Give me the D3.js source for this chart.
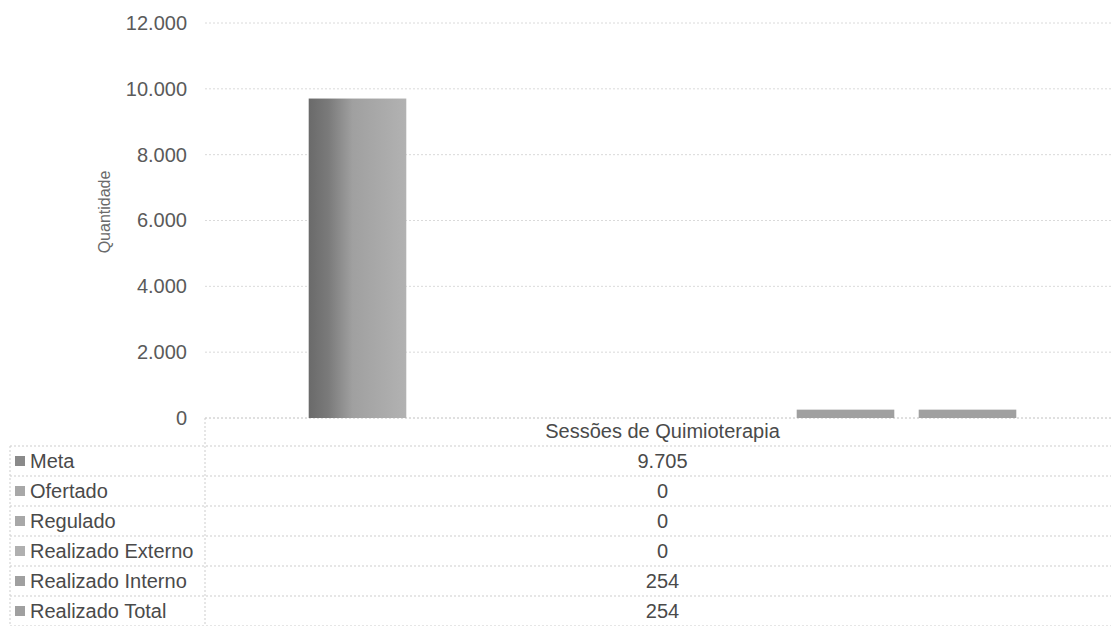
<!DOCTYPE html>
<html>
<head>
<meta charset="utf-8">
<script src="https://cdn.jsdelivr.net/npm/d3@7"></script>
<style>
  html, body { margin: 0; padding: 0; background: #fff; }
  svg { display: block; font-family: "Liberation Sans", Arial, sans-serif; }
</style>
</head>
<body>
<svg id="chart" width="1111" height="626"></svg>
<script>
// ---- data ----
const categories = ["Sessões de Quimioterapia"];
const series = ["Meta", "Ofertado", "Regulado", "Realizado Externo", "Realizado Interno", "Realizado Total"];
const values = [9705, 0, 0, 0, 254, 254];
const yTicks = [0, 2000, 4000, 6000, 8000, 10000, 12000];
const yTitle = "Quantidade";
const seriesColors = ["#8a8a8a", "#a8a8a8", "#a8a8a8", "#b0b0b0", "#a0a0a0", "#a0a0a0"];

// ---- layout ----
const W = 1111, H = 626;
const plotLeft = 205, plotRight = 1120, plotTop = 23, plotBottom = 418;
const tableLeft = 10, headerBottom = 446, rowH = 30;

const svg = d3.select("#chart");
const locale = d3.formatLocale({decimal: ",", thousands: ".", grouping: [3], currency: ["R$", ""]});
const fmt = locale.format(",d");

const y = d3.scaleLinear().domain([0, 12000]).range([plotBottom, plotTop]);
const x0 = d3.scaleBand().domain(categories).range([plotLeft, plotRight]).padding(0);
const x1 = d3.scaleBand().domain(series).range([0, x0.bandwidth()]).paddingInner(0.2).paddingOuter(0.85);

// gradient for textured look
const defs = svg.append("defs");
const g1 = defs.append("linearGradient").attr("id", "gMeta").attr("x1", "0").attr("x2", "1").attr("y1", "0").attr("y2", "0");
g1.append("stop").attr("offset", "0%").attr("stop-color", "#6a6a6a");
g1.append("stop").attr("offset", "20%").attr("stop-color", "#7a7a7a");
g1.append("stop").attr("offset", "45%").attr("stop-color", "#a0a0a0");
g1.append("stop").attr("offset", "100%").attr("stop-color", "#b2b2b2");

// gridlines
svg.append("g")
  .selectAll("line").data(yTicks).join("line")
  .attr("x1", plotLeft).attr("x2", W)
  .attr("y1", d => y(d)).attr("y2", d => y(d))
  .attr("stroke", d => d === 0 ? "#c0c0c0" : "#dadada")
  .attr("stroke-dasharray", "2,2")
  .attr("stroke-width", 1);

// y axis labels
const yAxis = d3.axisLeft(y).tickValues(yTicks).tickFormat(fmt).tickSize(0).tickPadding(18);
const ga = svg.append("g").attr("transform", `translate(${plotLeft},0)`).call(yAxis);
ga.select(".domain").remove();
ga.selectAll("text").attr("font-size", 20).attr("fill", "#5a5a5a").attr("font-family", "Liberation Sans, Arial, sans-serif");

// y title
svg.append("text")
  .attr("transform", `translate(110,212) rotate(-90)`)
  .attr("text-anchor", "middle")
  .attr("font-size", 16)
  .attr("fill", "#6a6a6a")
  .text(yTitle);

// bars
const cg = svg.append("g").selectAll("g").data(categories).join("g")
  .attr("transform", d => `translate(${x0(d)},0)`);
cg.selectAll("rect").data(series.map((s, i) => ({s, v: values[i], i}))).join("rect")
  .attr("x", d => x1(d.s))
  .attr("width", x1.bandwidth())
  .attr("y", d => y(d.v))
  .attr("height", d => y(0) - y(d.v))
  .attr("fill", d => d.i === 0 ? "url(#gMeta)" : seriesColors[d.i]);

// ---- data table ----
const tg = svg.append("g");
const lineColor = "#cdcdcd";
const rowLines = d3.range(series.length + 1).map(i => headerBottom + i * rowH);
tg.selectAll("line.h").data(rowLines).join("line")
  .attr("class", "h")
  .attr("x1", tableLeft).attr("x2", W)
  .attr("y1", d => d).attr("y2", d => d)
  .attr("stroke", lineColor).attr("stroke-dasharray", "2,2");
tg.append("line").attr("x1", tableLeft).attr("x2", tableLeft)
  .attr("y1", headerBottom).attr("y2", H)
  .attr("stroke", lineColor).attr("stroke-dasharray", "2,2");
tg.append("line").attr("x1", plotLeft).attr("x2", plotLeft)
  .attr("y1", plotBottom).attr("y2", H)
  .attr("stroke", lineColor).attr("stroke-dasharray", "2,2");

// header: category label
tg.selectAll("text.cat").data(categories).join("text")
  .attr("class", "cat")
  .attr("x", d => x0(d) + x0.bandwidth() / 2)
  .attr("y", plotBottom + 13)
  .attr("dy", "0.35em")
  .attr("text-anchor", "middle")
  .attr("font-size", 20).attr("fill", "#4a4a4a")
  .text(d => d);

// rows
const rows = tg.selectAll("g.row").data(series).join("g")
  .attr("class", "row")
  .attr("transform", (d, i) => `translate(0,${headerBottom + i * rowH + rowH / 2})`);
rows.append("rect")
  .attr("x", 15).attr("y", -5).attr("width", 10).attr("height", 10)
  .attr("fill", (d, i) => i === 0 ? "#8a8a8a" : seriesColors[i]);
rows.append("text")
  .attr("x", 30).attr("dy", "0.35em")
  .attr("font-size", 20).attr("fill", "#4a4a4a")
  .text(d => d);
rows.append("text")
  .attr("x", x0(categories[0]) + x0.bandwidth() / 2)
  .attr("dy", "0.35em")
  .attr("text-anchor", "middle")
  .attr("font-size", 20).attr("fill", "#4a4a4a")
  .text((d, i) => fmt(values[i]));
</script>
</body>
</html>
